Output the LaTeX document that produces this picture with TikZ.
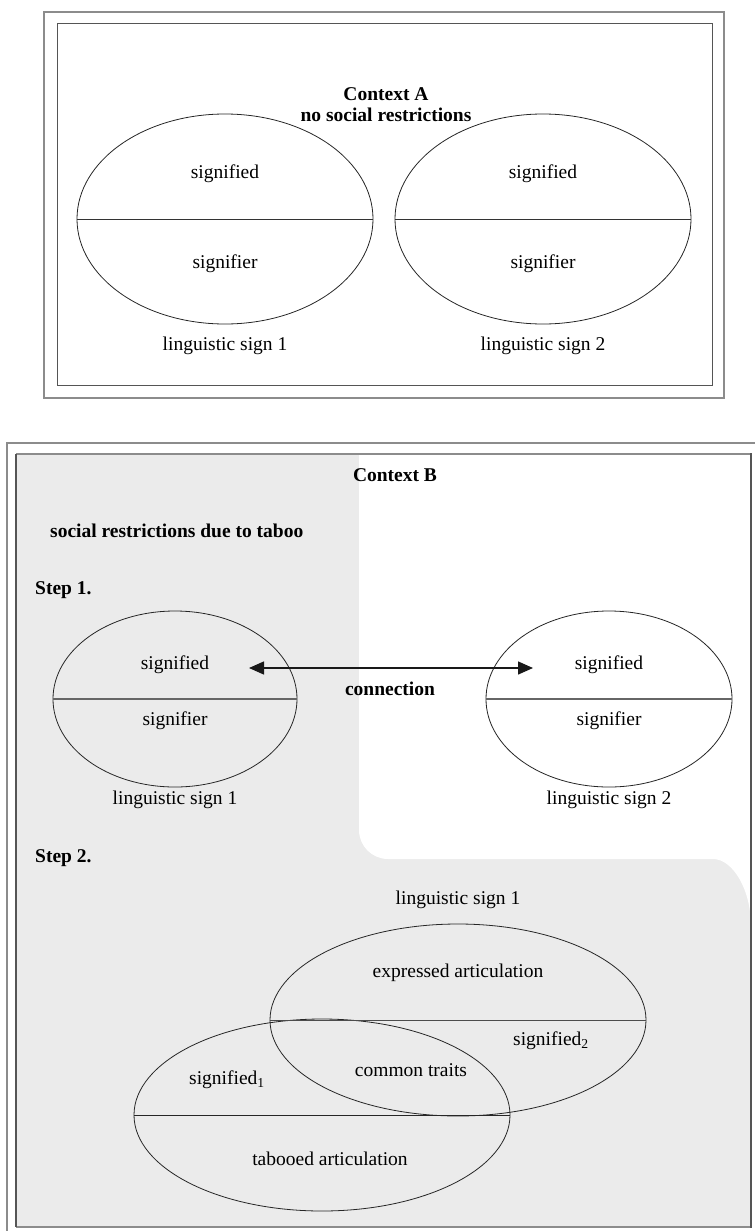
\documentclass[tikz,border=0pt]{standalone}
\usepackage{fontspec}
\setmainfont{Liberation Serif}
\usetikzlibrary{shapes.geometric,arrows.meta}
\definecolor{bggray}{HTML}{EBEBEB}
\definecolor{framedark}{HTML}{555555}
\definecolor{framelight}{HTML}{8C8C8C}
\begin{document}
\begin{tikzpicture}[x=1pt,y=-1pt,
  lbl/.style={font=\fontsize{19.5}{23}\selectfont, inner sep=0pt, text height=0.68em, text depth=0.2em},
  blbl/.style={lbl, font=\fontsize{19.5}{23}\selectfont\bfseries},
  sign/.style={ellipse, draw=black!85, line width=0.8pt, inner sep=0pt},
  divider/.style={draw=black!60, line width=1.2pt},
  conn/.style={line width=1.4pt, {Triangle[length=15pt,width=13pt]}-{Triangle[length=15pt,width=13pt]}}
]
\useasboundingbox (0,0) rectangle (755,1231);

% ---------- Context A ----------
\draw[framelight, line width=1.2pt] (44,12) rectangle (724,398);
\draw[framedark, line width=1pt] (57,24) rectangle (712,385);

\node[blbl] (ctxA) at (386,98) {Context A};
\node[blbl] (nosoc) at (386,119) {no social restrictions};

\node[sign, minimum width=296pt, minimum height=210pt] (a1) at (225,219) {};
\node[sign, minimum width=296pt, minimum height=210pt] (a2) at (543,219) {};
\draw[divider, draw=black!80, line width=0.9pt] (a1.west) -- (a1.east);
\draw[divider, draw=black!80, line width=0.9pt] (a2.west) -- (a2.east);
\node[lbl] (a1sd) at (225,176) {signified};
\node[lbl] (a1sr) at (225,266) {signifier};
\node[lbl] (a2sd) at (543,176) {signified};
\node[lbl] (a2sr) at (543,266) {signifier};
\node[lbl] (a1l) at (225,348) {linguistic sign 1};
\node[lbl] (a2l) at (543,348) {linguistic sign 2};

% ---------- Context B ----------
\fill[bggray] (16,454) rectangle (751,1227);
\fill[white] (359,454) -- (359,830) .. controls (359,846) and (372,859) .. (388,859)
  -- (713,859) .. controls (733,859) and (751,890) .. (751,926) -- (751,454) -- cycle;
\draw[framelight, line width=1.2pt] (7,1231) -- (7,443) -- (755,443);
\draw[black!45, line width=2pt] (16,454) -- (751,454);
\draw[black!45, line width=2pt] (16,1227) -- (751,1227);
\draw[framedark, line width=1.2pt] (16,454) -- (16,1227);
\draw[framedark, line width=2pt] (751,453) -- (751,1228);

\node[blbl] (ctxB) at (395,479) {Context B};
\node[blbl, anchor=west] (socr) at (50,535) {social restrictions due to taboo};
\node[blbl, anchor=west] (step1) at (35,592) {Step 1.};

% Step 1
\node[sign, minimum width=244pt, minimum height=176pt] (b1) at (175,699) {};
\node[sign, minimum width=246pt, minimum height=176pt] (b2) at (609,699) {};
\draw[divider] (b1.west) -- (b1.east);
\draw[divider] (b2.west) -- (b2.east);
\node[lbl] (b1sd) at (175,667) {signified};
\node[lbl] (b1sr) at (175,723) {signifier};
\node[lbl] (b2sd) at (609,667) {signified};
\node[lbl] (b2sr) at (609,723) {signifier};
\node[lbl] (b1l) at (175,802) {linguistic sign 1};
\node[lbl] (b2l) at (609,802) {linguistic sign 2};
\coordinate (arrL) at (249,668);
\coordinate (arrR) at (533,668);
\draw[conn, black!90] (arrL) -- (arrR);
\node[blbl] (conn) at (390,693) {connection};

% Step 2
\node[blbl, anchor=west] (step2) at (35,860) {Step 2.};
\node[lbl] (c1l) at (458,902) {linguistic sign 1};
\node[sign, minimum width=376pt, minimum height=192pt] (cu) at (458,1020) {};
\node[sign, minimum width=376pt, minimum height=192pt] (cl) at (322,1115) {};
\draw[divider, draw=black!70, line width=1pt] (cu.west) -- (cu.east);
\draw[divider, draw=black!85, line width=1pt] (cl.west) -- (cl.east);
\node[lbl] (cexp) at (458,975) {expressed articulation};
\node[lbl] (csd2) at (551,1043) {signified\textsubscript{2}};
\node[lbl] (csd1) at (227,1082) {signified\textsubscript{1}};
\node[lbl] (ccom) at (411,1074) {common traits};
\node[lbl] (ctab) at (330,1163) {tabooed articulation};
\end{tikzpicture}
\end{document}
